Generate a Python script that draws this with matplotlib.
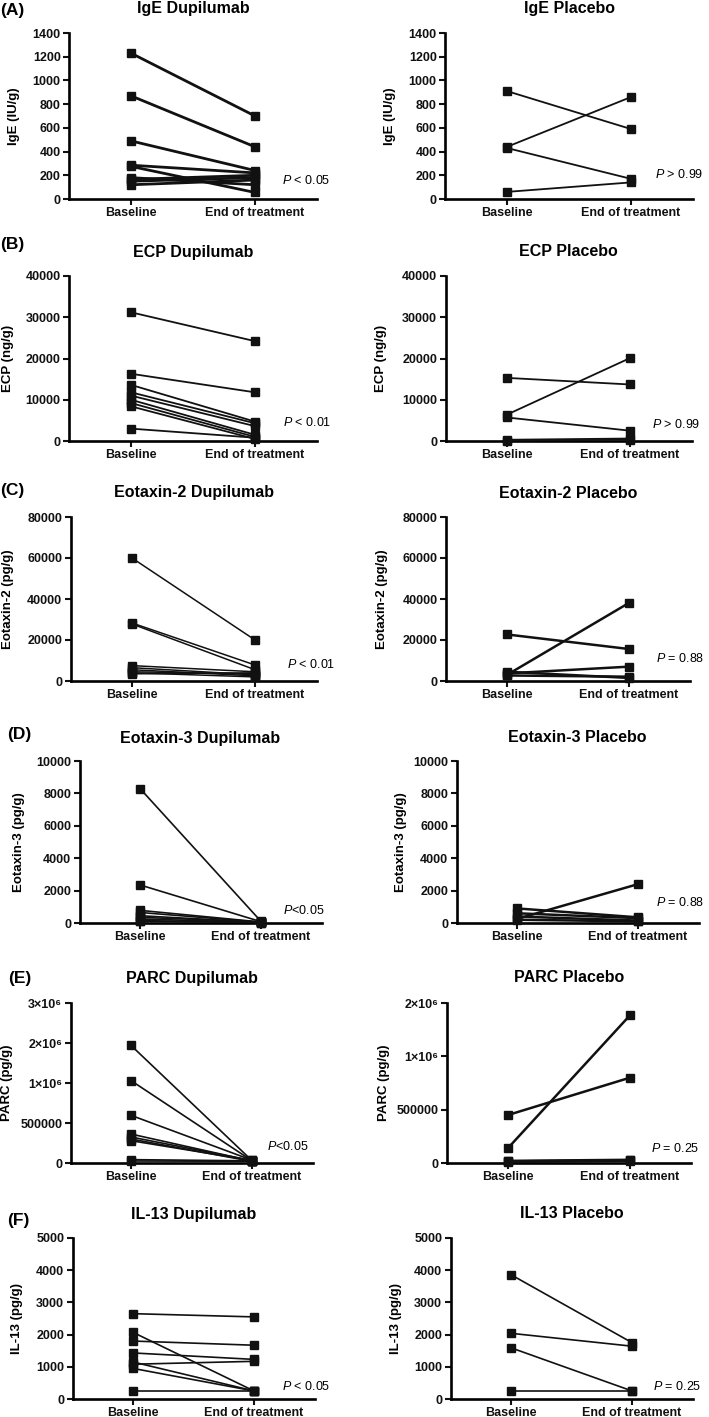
import numpy as np
import matplotlib
matplotlib.use('Agg')
import matplotlib.pyplot as plt

plt.rcParams['font.family'] = ['Liberation Sans', 'DejaVu Sans']
plt.rcParams['mathtext.fontset'] = 'custom'
plt.rcParams['mathtext.rm'] = 'Liberation Sans'
plt.rcParams['mathtext.it'] = 'Liberation Sans:italic'

W, H = 709, 1417
timepoints = ['Baseline', 'End of treatment']

# values (baseline -> end of treatment, one pair per subject)
ige_dup_base = [1230, 870, 490, 285, 275, 180, 165, 150, 120]
ige_dup_end = [700, 440, 240, 220, 55, 120, 200, 180, 160]
ige_pla_base = [910, 440, 430, 60]
ige_pla_end = [590, 860, 170, 140]

ecp_dup_base = [31200, 16300, 13600, 11800, 11000, 10000, 9200, 8400, 3000]
ecp_dup_end = [24200, 11800, 4700, 4300, 3600, 1500, 1000, 500, 800]
ecp_pla_base = [15300, 6400, 5700, 300, 100]
ecp_pla_end = [13700, 20100, 2500, 600, 300]

eot2_dup_base = [60000, 28300, 27800, 7500, 6500, 5500, 4500, 4000, 3500]
eot2_dup_end = [20000, 7800, 5500, 4500, 3000, 2500, 3500, 2000, 4000]
eot2_pla_base = [22700, 3000, 4500, 3700, 2700]
eot2_pla_end = [15600, 38100, 1500, 7000, 2100]

eot3_dup_base = [8300, 2350, 780, 650, 450, 350, 250, 150, 100]
eot3_dup_end = [100, 80, 60, 50, 40, 70, 30, 20, 50]
eot3_pla_base = [250, 900, 600, 400, 200]
eot3_pla_end = [2400, 350, 300, 150, 100]

parc_dup_base = [1940000, 1060000, 596000, 362000, 325000, 300000, 279000, 42000, 25000]
parc_dup_end = [30000, 28000, 35000, 25000, 30000, 20000, 32000, 27000, 22000]
parc_pla_base = [450000, 140000, 20000, 15000, 10000]
parc_pla_end = [800000, 1770000, 30000, 25000, 20000]

il13_dup_base = [2650, 2070, 1800, 1430, 1080, 1150, 950, 250]
il13_dup_end = [2550, 250, 1670, 1230, 1170, 250, 250, 250]
il13_pla_base = [3860, 2040, 1590, 250]
il13_pla_end = [1750, 1640, 250, 250]

parc_ticks_dup = [0, 500000, 1e6, 2e6, 3e6]
parc_ticks_pla = [0, 500000, 1e6, 2e6]
parc_labels_dup = ['0', '500000', '1×10⁶', '2×10⁶', '3×10⁶']
parc_labels_pla = ['0', '500000', '1×10⁶', '2×10⁶']

panels = [
    ('IgE Dupilumab', 'IgE (IU/g)', ige_dup_base, ige_dup_end, np.arange(0, 1401, 200), None, r'$P$ < 0.05'),
    ('IgE Placebo', 'IgE (IU/g)', ige_pla_base, ige_pla_end, np.arange(0, 1401, 200), None, r'$P$ > 0.99'),
    ('ECP Dupilumab', 'ECP (ng/g)', ecp_dup_base, ecp_dup_end, np.arange(0, 40001, 10000), None, r'$P$ < 0.01'),
    ('ECP Placebo', 'ECP (ng/g)', ecp_pla_base, ecp_pla_end, np.arange(0, 40001, 10000), None, r'$P$ > 0.99'),
    ('Eotaxin-2 Dupilumab', 'Eotaxin-2 (pg/g)', eot2_dup_base, eot2_dup_end, np.arange(0, 80001, 20000), None, r'$P$ < 0.01'),
    ('Eotaxin-2 Placebo', 'Eotaxin-2 (pg/g)', eot2_pla_base, eot2_pla_end, np.arange(0, 80001, 20000), None, r'$P$ = 0.88'),
    ('Eotaxin-3 Dupilumab', 'Eotaxin-3 (pg/g)', eot3_dup_base, eot3_dup_end, np.arange(0, 10001, 2000), None, r'$P$<0.05'),
    ('Eotaxin-3 Placebo', 'Eotaxin-3 (pg/g)', eot3_pla_base, eot3_pla_end, np.arange(0, 10001, 2000), None, r'$P$ = 0.88'),
    ('PARC Dupilumab', 'PARC (pg/g)', parc_dup_base, parc_dup_end, parc_ticks_dup, parc_labels_dup, r'$P$<0.05'),
    ('PARC Placebo', 'PARC (pg/g)', parc_pla_base, parc_pla_end, parc_ticks_pla, parc_labels_pla, r'$P$ = 0.25'),
    ('IL-13 Dupilumab', 'IL-13 (pg/g)', il13_dup_base, il13_dup_end, np.arange(0, 5001, 1000), None, r'$P$ < 0.05'),
    ('IL-13 Placebo', 'IL-13 (pg/g)', il13_pla_base, il13_pla_end, np.arange(0, 5001, 1000), None, r'$P$ = 0.25'),
]

# layout in pixels: baseline x, end x, axis top, axis bottom, ylabel x, p-text x, p-text y, line width
layout = [
    (131, 255, 33, 199, 14, 282, 181, 2.0), (507, 631, 33, 199, 390, 655, 175, 1.3),
    (131, 255, 276, 441, 8, 283, 422, 1.3), (507, 630, 276, 441, 381, 652, 425, 1.3),
    (132, 255, 517, 681, 8, 287, 665, 1.1), (507, 629, 517, 681, 382, 656, 658, 1.8),
    (140, 261, 761, 923, 19, 283, 911, 1.2), (517, 638, 761, 923, 401, 656, 903, 1.8),
    (131, 252, 1003, 1163, 7, 267, 1147, 1.2), (508, 630, 1003, 1163, 384, 651, 1149, 1.8),
    (133, 254, 1238, 1399, 17, 282, 1387, 1.2), (511, 632, 1238, 1399, 396, 653, 1387, 1.2),
]
title_y = [9, 252, 493, 738, 978, 1214]
letters = [('(A)', 0, 10), ('(B)', 0, 244), ('(C)', 0, 490), ('(D)', 7, 735), ('(E)', 8, 978), ('(F)', 7, 1220)]


def parc_fwd(y):
    y = np.asarray(y, dtype=float)
    return np.where(y <= 1e6, y / 5e5, 2 + (y - 1e6) / 1e6)


def parc_inv(u):
    u = np.asarray(u, dtype=float)
    return np.where(u <= 2, u * 5e5, 1e6 + (u - 2) * 1e6)


fig = plt.figure(figsize=(W / 100, H / 100), dpi=100)

for i, (title, ylabel, base, end, yticks, ylabels, ptxt) in enumerate(panels):
    b, e, top, bottom, lx, px, py, lw = layout[i]
    span = e - b
    x0, x1 = b - 0.5 * span, e + 0.5 * span
    ax = fig.add_axes([x0 / W, 1 - bottom / H, (x1 - x0) / W, (bottom - top) / H])

    if ylabels is not None:
        ax.set_yscale('function', functions=(parc_fwd, parc_inv))

    for y0, y1 in zip(base, end):
        ax.plot([0, 1], [y0, y1], color='#111111', lw=lw, marker='s', ms=5.5, clip_on=False, zorder=3)

    ax.set_xlim(-0.5, 1.5)
    ax.set_ylim(0, yticks[-1])
    ax.set_xticks([0, 1])
    ax.set_xticklabels(timepoints, fontsize=9, fontweight='bold')
    ax.set_yticks(yticks)
    if ylabels is not None:
        ax.set_yticklabels(ylabels, fontsize=9, fontweight='bold')
    else:
        ax.set_yticklabels([str(int(v)) for v in yticks], fontsize=9, fontweight='bold')
    ax.minorticks_off()

    for s in ['top', 'right']:
        ax.spines[s].set_visible(False)
    for s in ['left', 'bottom']:
        ax.spines[s].set_linewidth(1.9)
    ax.tick_params(width=1.5, length=4, pad=2, colors='#111111')

    ax.set_ylabel(ylabel, fontsize=9.5, fontweight='bold')
    ax.yaxis.set_label_coords((lx - x0) / (x1 - x0), 0.5)
    ax.yaxis.label.set_va('center')

    fig.text((x0 + x1) / 2 / W, 1 - title_y[i // 2] / H, title, ha='center', va='center',
             fontsize=11.5, fontweight='bold')
    fig.text(px / W, 1 - py / H, ptxt, ha='left', va='center', fontsize=9)

for lab, x, y in letters:
    fig.text(x / W, 1 - y / H, lab, ha='left', va='center', fontsize=12.5, fontweight='bold')

fig.savefig('out.png', dpi=100)
